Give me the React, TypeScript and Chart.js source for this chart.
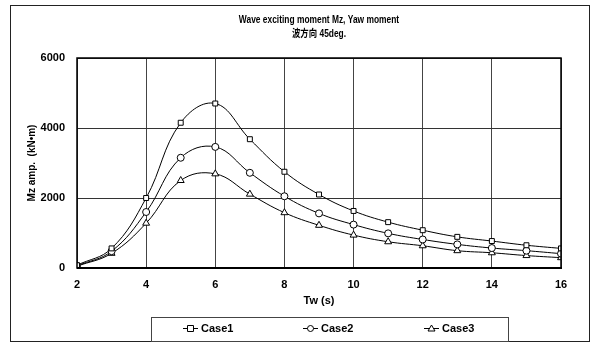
import React, { useEffect, useRef } from "react";
import { Chart, registerables } from "chart.js";

Chart.register(...registerables);

const periods = [2, 3, 4, 5, 6, 7, 8, 9, 10, 11, 12, 13, 14, 15, 16];
const case1 = [80, 560, 2000, 4150, 4700, 3680, 2750, 2100, 1630, 1310, 1080, 890, 770, 650, 560];
const case2 = [60, 480, 1600, 3150, 3460, 2720, 2050, 1560, 1240, 990, 815, 675, 570, 495, 410];
const case3 = [50, 420, 1280, 2500, 2690, 2110, 1580, 1220, 940, 750, 635, 495, 435, 355, 295];

const seriesNames = ["Case1", "Case2", "Case3"];
const pointStyles = ["rect", "circle", "triangle"];
const titleLines = ["Wave exciting moment Mz, Yaw moment", "波方向 45deg."];
const xTitle = "Tw (s)";
const yTitle = "Mz amp.  (kN•m)";

const FONT = "'Liberation Sans', Arial, 'Noto Sans CJK JP', sans-serif";

const decorPlugin = {
  id: "decor",
  beforeDraw(chart: any) {
    const ctx = chart.ctx;
    ctx.save();
    ctx.fillStyle = "#fff";
    ctx.fillRect(0, 0, chart.width, chart.height);
    ctx.restore();
  },
  afterDraw(chart: any) {
    const ctx = chart.ctx;
    const ca = chart.chartArea;
    ctx.save();
    // outer frame
    ctx.strokeStyle = "#222";
    ctx.lineWidth = 1;
    ctx.strokeRect(10.5, 5.5, 579, 336);
    // plot border
    ctx.strokeStyle = "#000";
    ctx.lineWidth = 1.5;
    ctx.strokeRect(ca.left, ca.top, ca.right - ca.left, ca.bottom - ca.top);
    ctx.lineWidth = 2;
    ctx.beginPath();
    ctx.moveTo(ca.left, ca.bottom);
    ctx.lineTo(ca.right + 1, ca.bottom);
    ctx.stroke();
    // title (slightly condensed)
    const cx = (ca.left + ca.right) / 2;
    ctx.save();
    ctx.translate(cx, 0);
    ctx.scale(0.8, 1);
    ctx.fillStyle = "#000";
    ctx.font = `bold 10.5px ${FONT}`;
    ctx.textAlign = "center";
    ctx.textBaseline = "middle";
    ctx.fillText(titleLines[0], 0, 20);
    ctx.fillText(titleLines[1], 0, 34);
    ctx.restore();
    // legend box
    ctx.strokeStyle = "#444";
    ctx.lineWidth = 1;
    ctx.strokeRect(151.5, 317.5, 357, 24);
    const itemX = [183, 303, 424];
    chart.data.datasets.forEach((ds: any, i: number) => {
      const x0 = itemX[i];
      const y = 328.5;
      ctx.strokeStyle = "#000";
      ctx.lineWidth = 1;
      ctx.beginPath();
      ctx.moveTo(x0, y);
      ctx.lineTo(x0 + 15, y);
      ctx.stroke();
      ctx.fillStyle = "#fff";
      const mx = x0 + 7.5;
      ctx.beginPath();
      if (ds.pointStyle === "rect") {
        ctx.rect(mx - 3, y - 3, 6, 6);
      } else if (ds.pointStyle === "circle") {
        ctx.arc(mx, y, 3, 0, Math.PI * 2);
      } else {
        ctx.moveTo(mx, y - 3.5);
        ctx.lineTo(mx + 3.5, y + 2.5);
        ctx.lineTo(mx - 3.5, y + 2.5);
        ctx.closePath();
      }
      ctx.fill();
      ctx.stroke();
      ctx.fillStyle = "#000";
      ctx.font = `bold 11px ${FONT}`;
      ctx.textAlign = "left";
      ctx.textBaseline = "middle";
      ctx.fillText(ds.label, x0 + 18, y);
    });
    ctx.restore();
  },
};

export default function App() {
  const ref = useRef<HTMLCanvasElement | null>(null);
  useEffect(() => {
    if (!ref.current) return;
    const series = [case1, case2, case3];
    const chart = new Chart(ref.current, {
      type: "line",
      data: {
        datasets: series.map((vals, i) => ({
          label: seriesNames[i],
          data: periods.map((p, j) => ({ x: p, y: vals[j] })),
          borderColor: "#000",
          borderWidth: 1,
          backgroundColor: "#fff",
          pointStyle: pointStyles[i] as any,
          pointRadius: i === 2 ? 4 : 3.5,
          pointBorderColor: "#000",
          pointBackgroundColor: "#fff",
          pointBorderWidth: 1,
          tension: 0.4,
          fill: false,
        })),
      },
      options: {
        animation: false,
        responsive: false,
        devicePixelRatio: 1,
        layout: { padding: { top: 58, left: 0, right: 39, bottom: 41 } },
        plugins: {
          legend: { display: false },
          title: { display: false },
          tooltip: { enabled: false },
        },
        scales: {
          x: {
            type: "linear",
            min: 2,
            max: 16,
            afterFit: (s: any) => {
              s.height = 40;
            },
            ticks: {
              stepSize: 2,
              color: "#000",
              padding: 10,
              font: { family: FONT, size: 11, weight: "bold" },
              callback: (v: any) => String(v),
            },
            grid: { color: "#444", lineWidth: 1, drawTicks: false },
            border: { display: false },
            title: {
              display: true,
              text: xTitle,
              color: "#000",
              font: { family: FONT, size: 11, weight: "bold" },
              padding: { top: 0, bottom: 0 },
            },
          },
          y: {
            min: 0,
            max: 6000,
            afterFit: (s: any) => {
              s.width = 77;
            },
            ticks: {
              stepSize: 2000,
              color: "#000",
              padding: 12,
              font: { family: FONT, size: 11, weight: "bold" },
              callback: (v: any) => String(v),
            },
            grid: { color: "#333", lineWidth: 1, drawTicks: false },
            border: { display: false },
            title: {
              display: true,
              text: yTitle,
              color: "#000",
              font: { family: FONT, size: 10, weight: "bold" },
              padding: { top: 26, bottom: 0 },
            },
          },
        },
      },
      plugins: [decorPlugin],
    });
    return () => chart.destroy();
  }, []);
  return (
    <div style={{ position: "fixed", left: 0, top: 0, width: 600, height: 349, background: "#fff" }}>
      <canvas ref={ref} width={600} height={349} style={{ display: "block" }} />
    </div>
  );
}
